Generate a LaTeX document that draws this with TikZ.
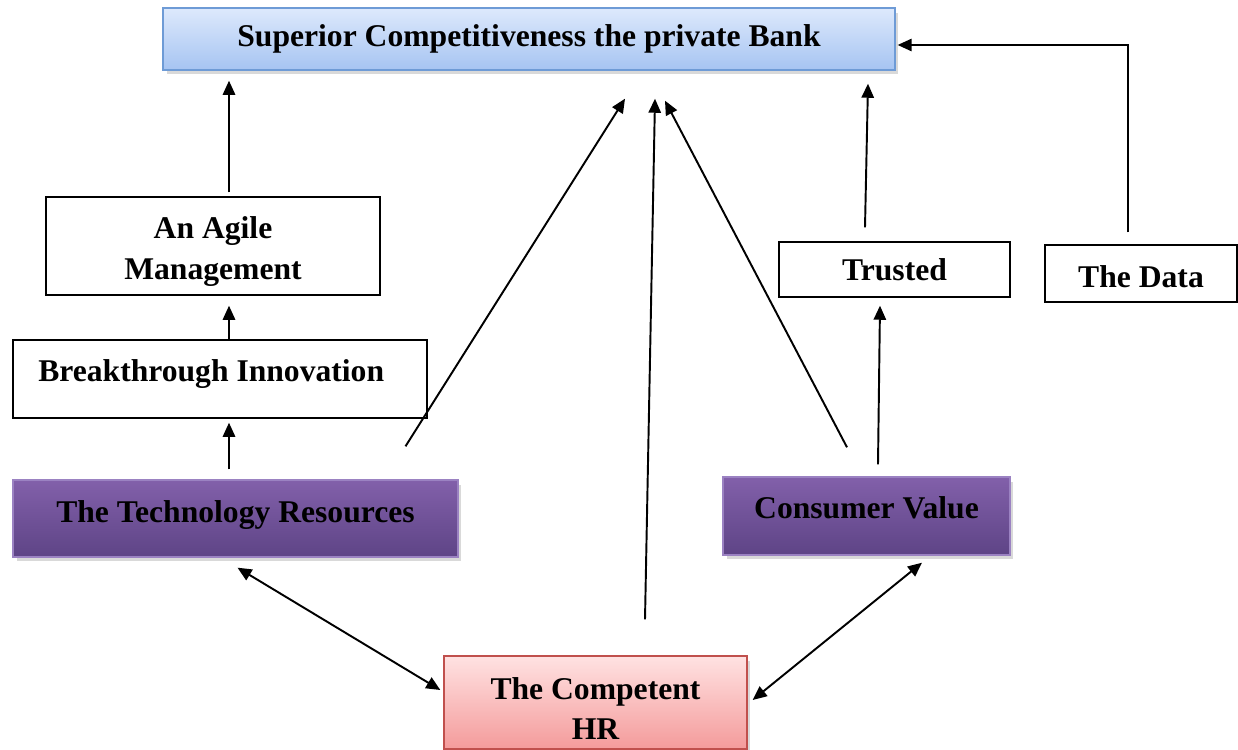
\documentclass[tikz,border=0pt]{standalone}
\usepackage{fontspec}
\setmainfont{Liberation Serif}
\usetikzlibrary{arrows.meta,shadows,calc}

\definecolor{bankTop}{HTML}{DDE9FC}
\definecolor{bankBot}{HTML}{A6C4F2}
\definecolor{bankEdge}{HTML}{6E9BD6}
\definecolor{purpTop}{HTML}{8260AA}
\definecolor{purpBot}{HTML}{5E4486}
\definecolor{purpEdge}{HTML}{9B82C2}
\definecolor{hrTop}{HTML}{FFE2E2}
\definecolor{hrBot}{HTML}{F49B9B}
\definecolor{hrEdge}{HTML}{C0504D}

\begin{document}
\begin{tikzpicture}[x=0.02cm,y=-0.02cm,
    box/.style={draw,line width=0.8pt,align=center,inner sep=0pt,
      font=\fontsize{18}{23}\selectfont\bfseries},
    plain/.style={box,fill=white},
    shade/.style={box,drop shadow={opacity=0.3,shadow xshift=0.7mm,shadow yshift=-0.9mm}},
    topbox/.style={shade,draw=bankEdge,top color=bankTop,bottom color=bankBot},
    purp/.style={shade,draw=purpEdge,top color=purpTop,bottom color=purpBot},
    hrbox/.style={shade,draw=hrEdge,top color=hrTop,bottom color=hrBot},
    conn/.style={line width=1.1pt,-{Triangle[length=8pt,width=7pt]}},
    both/.style={conn,{Triangle[length=8pt,width=7pt]}-{Triangle[length=8pt,width=7pt]}}]
  \useasboundingbox (0,0) rectangle (1238,750);

  \node[topbox,minimum width=14.64cm,minimum height=1.24cm] (bank) at (529,39)
    {Superior Competitiveness the private Bank};
  \node[plain,minimum width=6.68cm,minimum height=1.96cm,text height=42pt] (agile) at (213,246)
    {An Agile\\Management};
  \node[plain,minimum width=8.28cm,minimum height=1.56cm,text height=12.5pt,text depth=9.6pt] (innov) at (220,379)
    {Breakthrough Innovation\hspace*{10pt}};
  \node[purp,minimum width=8.9cm,minimum height=1.54cm,text height=12.5pt,text depth=7.4pt] (tech) at (235.5,518.5)
    {The Technology Resources};
  \node[purp,minimum width=5.74cm,minimum height=1.56cm,text height=12.5pt,text depth=10pt] (value) at (866.5,516)
    {Consumer Value};
  \node[plain,minimum width=4.62cm,minimum height=1.1cm] (trust) at (894.5,269.5)
    {Trusted};
  \node[plain,minimum width=3.84cm,minimum height=1.14cm,text height=15.7pt,text depth=0pt] (data) at (1141,273.5)
    {The Data};
  \node[hrbox,minimum width=6.06cm,minimum height=1.86cm,text height=42.5pt] (hr) at (595.5,702.5)
    {The Competent\\HR};

  % left chain
  \draw[conn] ($(agile.north)+(16,-4)$) -- ($(bank.south)+(-300,10)$);
  \draw[conn] ($(innov.north)+(9,0)$) -- ($(agile.south)+(16,10)$);
  \draw[conn] ($(tech.north)+(-6.5,-10)$) -- ($(innov.south)+(9,4)$);

  % into the bank
  \draw[conn] ($(tech.north)+(170,-33)$) -- ($(bank.south)+(96,28)$);
  \draw[conn] ($(hr.north)+(49.5,-36)$) -- ($(bank.south)+(126,28)$);
  \draw[conn] ($(value.north)+(-19.5,-29)$) -- ($(bank.south)+(136,30)$);
  \draw[conn] ($(trust.north)+(-29.5,-14)$) -- ($(bank.south)+(339,13)$);
  \draw[conn] ($(data.north)+(-13,-12)$) |- ($(bank.east)+(2,6)$);

  % right chain
  \draw[conn] ($(value.north)+(11.5,-12)$) -- ($(trust.south)+(-14.5,8)$);

  % HR links
  \draw[both] ($(tech.south)+(2,10)$) -- ($(hr.west)+(-3,-12.5)$);
  \draw[both] ($(value.south)+(55.5,7)$) -- ($(hr.east)+(5,-2.5)$);
\end{tikzpicture}
\end{document}
